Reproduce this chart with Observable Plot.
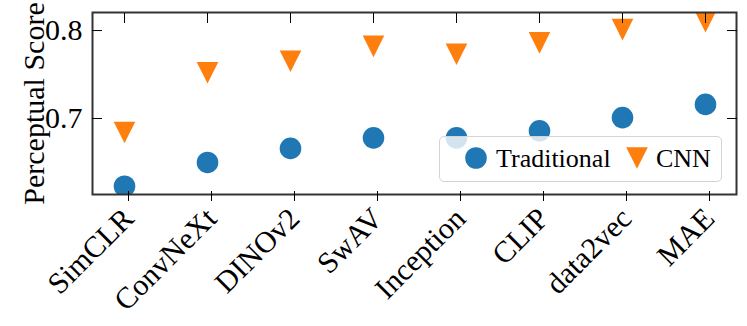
<!DOCTYPE html>
<html><head><meta charset="utf-8">
<script src="https://cdn.jsdelivr.net/npm/d3@7"></script>
<script src="https://cdn.jsdelivr.net/npm/@observablehq/plot@0.6"></script>
<style>
body{margin:0;background:#fff}
#wrap{position:relative;width:747px;height:326px}
#legend{position:absolute;left:439px;top:136px;width:283px;height:46px;box-sizing:border-box;border:1px solid #d4d4d4;border-radius:5px;background:rgba(255,255,255,0.8);font-family:"Liberation Serif",serif;font-size:26px}
#legend svg{display:block}
</style></head><body>
<div id="wrap"><div id="legend"></div></div>
<script>
const models = ["SimCLR","ConvNeXt","DINOv2","SwAV","Inception","CLIP","data2vec","MAE"];
const traditional = [0.623, 0.650, 0.666, 0.678, 0.678, 0.686, 0.701, 0.716];
const cnn = [0.684, 0.752, 0.765, 0.782, 0.773, 0.786, 0.801, 0.810];
const yTicks = [0.7, 0.8];
const seriesNames = ["Traditional", "CNN"];
const seriesColors = ["#1f77b4", "#ff7f0e"];

const rows = models.flatMap((m, i) => [
  {model: m, series: seriesNames[0], score: traditional[i]},
  {model: m, series: seriesNames[1], score: cnn[i]}
]);

const triangleDown = {
  draw(ctx, size) {
    const h = Math.sqrt(size / Math.PI);
    ctx.moveTo(0, h);
    ctx.lineTo(-h, -h);
    ctx.lineTo(h, -h);
    ctx.closePath();
  }
};

const chart = Plot.plot({
  width: 747,
  height: 326,
  marginLeft: 92,
  marginRight: 11,
  marginTop: 12,
  marginBottom: 132,
  style: {fontFamily: "'Liberation Serif', serif", fontSize: "30px", background: "white", color: "black"},
  x: {type: "point", domain: models, padding: 0.35, label: null},
  y: {domain: [0.6136, 0.8205], label: null},
  marks: [
    Plot.dot(rows.filter(d => d.series === seriesNames[0]), {x: "model", y: "score", r: 10.8, fill: seriesColors[0], clip: true}),
    Plot.dot(rows.filter(d => d.series === seriesNames[1]), {x: "model", y: "score", r: 10.8, fill: seriesColors[1], symbol: triangleDown, clip: true}),
    Plot.frame({stroke: "#333", strokeWidth: 2}),
    Plot.axisY(yTicks, {anchor: "left", tickSize: -10, tickPadding: 20, tickFormat: d => d.toFixed(1), label: "Perceptual Score", labelAnchor: "center", labelArrow: "none", labelOffset: 70, fontSize: 30}),
    Plot.axisY(yTicks, {anchor: "right", tickSize: -10, text: null, label: null}),
    Plot.axisX(models, {anchor: "bottom", tickSize: -10, tickRotate: -45, tickPadding: 22, dx: 4, dy: 7, label: null, fontSize: 30}),
    Plot.axisX(models, {anchor: "top", tickSize: -10, text: null, label: null})
  ]
});
document.getElementById("wrap").prepend(chart);

// legend
const lg = d3.select("#legend").append("svg").attr("width", 281).attr("height", 44);
lg.append("circle").attr("cx", 36).attr("cy", 21).attr("r", 10.8).attr("fill", seriesColors[0]);
lg.append("text").attr("x", 56).attr("y", 30).text(seriesNames[0]);
lg.append("path").attr("d", d3.symbol(triangleDown, Math.PI * 10.8 * 10.8)()).attr("transform", "translate(197,21)").attr("fill", seriesColors[1]);
lg.append("text").attr("x", 216).attr("y", 30).text(seriesNames[1]);
</script>
</body></html>
